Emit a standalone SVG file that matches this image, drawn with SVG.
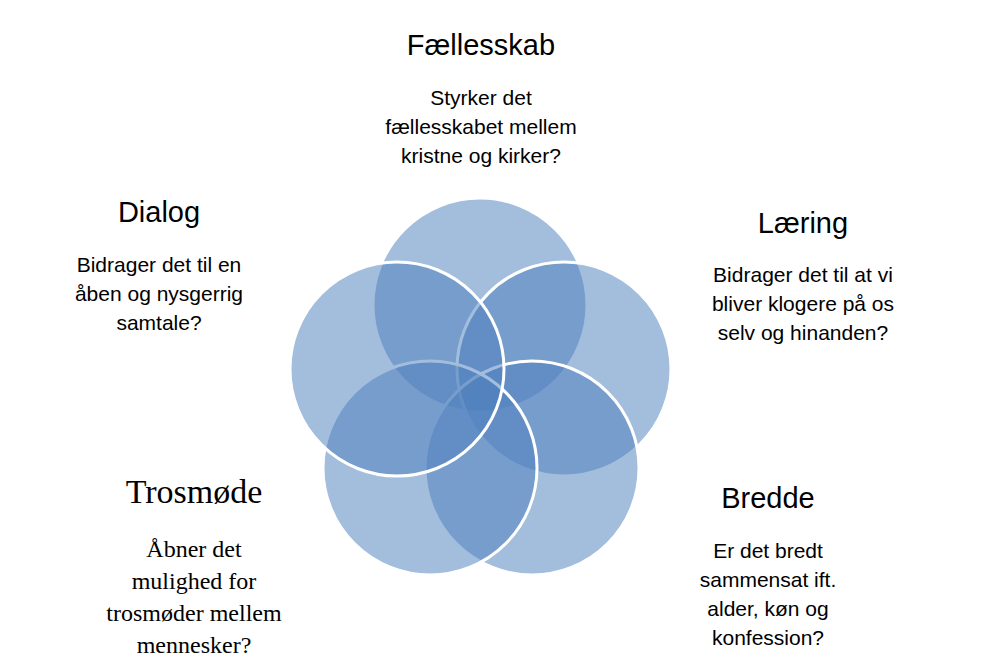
<svg xmlns="http://www.w3.org/2000/svg" width="994" height="672" viewBox="0 0 994 672">
<style>
.c{fill:#4f81bd;fill-opacity:0.52;stroke:#fff;stroke-width:3}
.t{font-family:"Liberation Sans",sans-serif;font-size:29px;fill:#000;text-anchor:middle}
.b{font-family:"Liberation Sans",sans-serif;font-size:21px;fill:#000;text-anchor:middle}
.ts{font-family:"Liberation Serif",serif;font-size:34px;fill:#000;text-anchor:middle}
.bs{font-family:"Liberation Serif",serif;font-size:24px;fill:#000;text-anchor:middle}
</style>
<rect width="994" height="672" fill="#fff"/>
<g id="circles">
<circle id="c1" class="c" cx="480" cy="305" r="107"/>
<circle id="c2" class="c" cx="564" cy="369" r="107"/>
<circle id="c3" class="c" cx="532" cy="468" r="107"/>
<circle id="c4" class="c" cx="430" cy="468" r="107"/>
<circle id="c5" class="c" cx="397" cy="369" r="107"/>
</g>
<g id="faellesskab">
<text class="t" x="481" y="55">Fællesskab</text>
<text class="b" x="481" y="105">Styrker det</text>
<text class="b" x="481" y="134">fællesskabet mellem</text>
<text class="b" x="481" y="163">kristne og kirker?</text>
</g>
<g id="laering">
<text class="t" x="803" y="233">Læring</text>
<text class="b" x="803" y="282">Bidrager det til at vi</text>
<text class="b" x="803" y="311">bliver klogere på os</text>
<text class="b" x="803" y="340">selv og hinanden?</text>
</g>
<g id="bredde">
<text class="t" x="768" y="508">Bredde</text>
<text class="b" x="768" y="558">Er det bredt</text>
<text class="b" x="768" y="587">sammensat ift.</text>
<text class="b" x="768" y="616">alder, køn og</text>
<text class="b" x="768" y="645">konfession?</text>
</g>
<g id="trosmode">
<text class="ts" x="194" y="503">Trosmøde</text>
<text class="bs" x="194" y="557">Åbner det</text>
<text class="bs" x="194" y="589">mulighed for</text>
<text class="bs" x="194" y="621">trosmøder mellem</text>
<text class="bs" x="194" y="653">mennesker?</text>
</g>
<g id="dialog">
<text class="t" x="159" y="222">Dialog</text>
<text class="b" x="159" y="272">Bidrager det til en</text>
<text class="b" x="159" y="301">åben og nysgerrig</text>
<text class="b" x="159" y="330">samtale?</text>
</g>
</svg>
